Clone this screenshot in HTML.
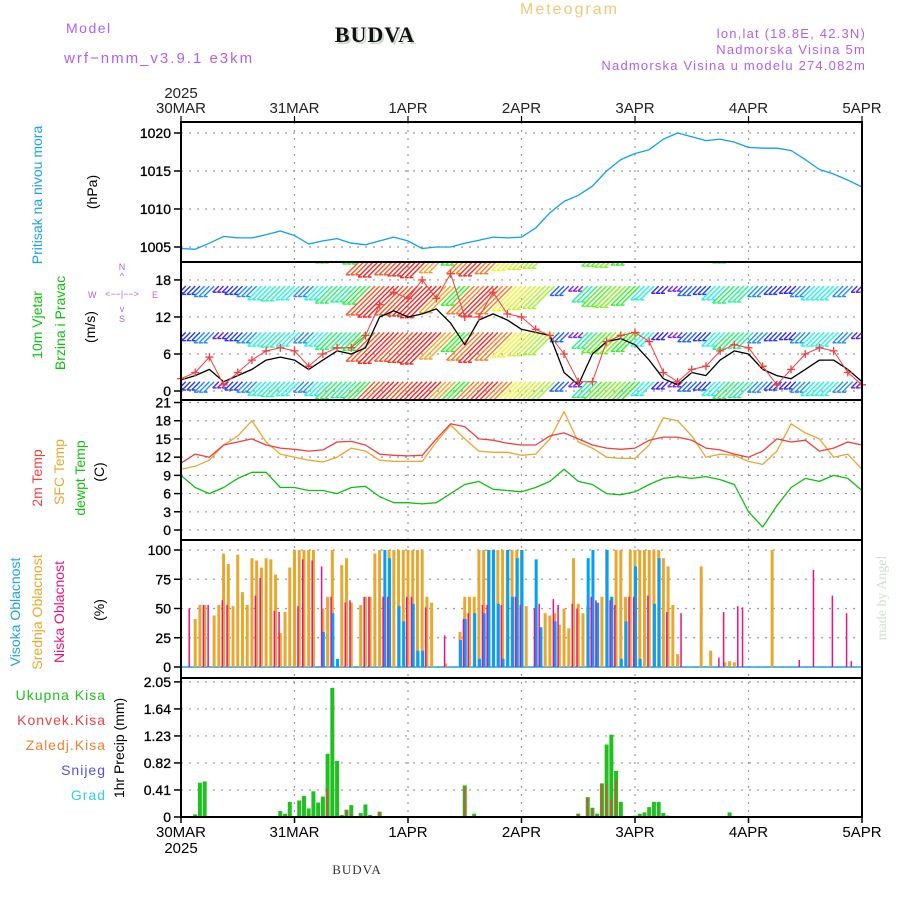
<!DOCTYPE html>
<html><head><meta charset="utf-8"><style>
html,body{margin:0;padding:0;background:#fff;}
svg text{font-family:"Liberation Sans",sans-serif;}
</style></head><body>
<svg id="chart" width="900" height="900" viewBox="0 0 900 900" xmlns="http://www.w3.org/2000/svg">
<rect x="0" y="0" width="900" height="900" fill="#fff"/>
<text x="66" y="33" font-size="14" fill="#b060f0" letter-spacing="1.5">Model</text>
<text x="64" y="63" font-size="15" fill="#b060f0" letter-spacing="2">wrf−nmm_v3.9.1 e3km</text>
<text x="377" y="44" font-size="22" font-weight="bold" fill="#c8d8c8" text-anchor="middle" style="font-family:'Liberation Serif',serif" letter-spacing="1">BUDVA</text>
<text x="375" y="42" font-size="22" font-weight="bold" fill="#111" text-anchor="middle" style="font-family:'Liberation Serif',serif" letter-spacing="1">BUDVA</text>
<text x="520" y="14" font-size="16" fill="#f0c878" letter-spacing="2">Meteogram</text>
<text x="866" y="38" font-size="13" fill="#b060f0" text-anchor="end" letter-spacing="1.2">lon,lat (18.8E, 42.3N)</text>
<text x="866" y="54" font-size="13" fill="#b060f0" text-anchor="end" letter-spacing="1.2">Nadmorska Visina 5m</text>
<text x="866" y="70" font-size="13" fill="#b060f0" text-anchor="end" letter-spacing="1.2">Nadmorska Visina u modelu 274.082m</text>

<text transform="translate(42,195) rotate(-90)" font-size="14" fill="#20a0f0" text-anchor="middle">Pritisak na nivou mora</text>
<text transform="translate(97,192) rotate(-90)" font-size="14" fill="#000" text-anchor="middle">(hPa)</text>
<text transform="translate(42,325) rotate(-90)" font-size="14" fill="#10c010" text-anchor="middle">10m Vjetar</text>
<text transform="translate(65,323) rotate(-90)" font-size="14" fill="#10c010" text-anchor="middle">Brzina i Pravac</text>
<text transform="translate(95,327) rotate(-90)" font-size="14" fill="#000" text-anchor="middle">(m/s)</text>
<g font-size="9" fill="#b060f0">
<text x="122" y="270" text-anchor="middle">N</text>
<text x="122" y="279" text-anchor="middle">^</text>
<text x="88" y="298">W</text>
<text x="122" y="297" text-anchor="middle">&lt;−−|−−&gt;</text>
<text x="152" y="298">E</text>
<text x="122" y="312" text-anchor="middle">v</text>
<text x="122" y="322" text-anchor="middle">S</text>
</g>
<text transform="translate(42,478) rotate(-90)" font-size="14" fill="#f04040" text-anchor="middle">2m Temp</text>
<text transform="translate(64,472) rotate(-90)" font-size="14" fill="#e8a830" text-anchor="middle">SFC Temp</text>
<text transform="translate(85,478) rotate(-90)" font-size="14" fill="#10c010" text-anchor="middle">dewpt Temp</text>
<text transform="translate(104,472) rotate(-90)" font-size="14" fill="#000" text-anchor="middle">(C)</text>
<text transform="translate(20,612) rotate(-90)" font-size="14" fill="#20a0f0" text-anchor="middle">Visoka Oblacnost</text>
<text transform="translate(42,612) rotate(-90)" font-size="14" fill="#e8a830" text-anchor="middle">Srednja Oblacnost</text>
<text transform="translate(64,612) rotate(-90)" font-size="14" fill="#f0107f" text-anchor="middle">Niska Oblacnost</text>
<text transform="translate(104,610) rotate(-90)" font-size="14" fill="#000" text-anchor="middle">(%)</text>
<g font-size="14" text-anchor="end" letter-spacing="1">
<text x="106" y="700" fill="#20c020">Ukupna Kisa</text>
<text x="106" y="725" fill="#f04040">Konvek.Kisa</text>
<text x="106" y="750" fill="#f08030">Zaledj.Kisa</text>
<text x="106" y="775" fill="#5050f0">Snijeg</text>
<text x="106" y="800" fill="#30d0e0">Grad</text>
</g>
<text transform="translate(124,748) rotate(-90)" font-size="14" fill="#000" text-anchor="middle">1hr Precip (mm)</text>
<text transform="translate(886,598) rotate(-90)" font-size="14" fill="#d0e0d0" text-anchor="middle" style="font-family:'Liberation Serif',serif">made by Angel</text>
<text x="357" y="874" font-size="13" fill="#333" text-anchor="middle" style="font-family:'Liberation Serif',serif" letter-spacing="1">BUDVA</text>
<g id="plot"></g>
</svg>
<script>
// ---- data ----
const dayLabels = ["30MAR","31MAR","1APR","2APR","3APR","4APR","5APR"];
const pressure = [1004.8,1004.7,1005.5,1006.4,1006.2,1006.2,1006.6,1007.1,1006.5,1005.4,1005.8,1006.1,1005.5,1005.3,1005.8,1006.3,1005.8,1004.8,1005.0,1005.0,1005.5,1005.9,1006.3,1006.2,1006.3,1007.5,1009.5,1011,1011.8,1013,1015,1016.5,1017.3,1017.8,1019.2,1020,1019.5,1019,1019.2,1018.8,1018.1,1018,1018,1017.7,1016.5,1015.2,1014.6,1013.8,1012.9];
const windSpeed = [1.8,2.5,3.5,1.5,2.5,3.5,5,5.5,5,3.5,5,6.5,6,7,12,13,12,12.5,13.3,11,7.5,11.5,12.5,11.5,10,9.5,9,3,1,6,8,8.5,7.5,5,2,1,3,2.5,5,6.5,6,3.5,2.5,2,3.5,5,5,3.5,1.5];
const windGust = [2,3,5.5,1,3,5,6.5,7,6.5,4,6,7,7,9,14,16,15,18,15,19,12,12,16,12.5,12,10,9,6,1.5,1.5,8,9,9.5,8,3,1.5,3.5,4,6.5,7.5,7,4,1,3.5,6,7,6.5,3,1];
const temp2m = [11,12.5,12,14,14.5,15,14,13.5,13.3,13,13.2,14.5,14.6,14,12.5,12.3,12.2,12.3,15,17.5,17,15,14.8,14.3,14,14,15.5,16,15,14,13.5,13.3,13.5,14.8,15.3,15.3,14.8,13.5,13.2,12.5,12,13,15,14.5,14.8,13,13.5,14.5,14];
const tempSfc = [10,10.5,11.5,14,15.5,18,14.5,12.5,12,11.5,11.2,12,13.5,13,11.5,11.3,11.3,11.3,14.5,17.3,15,13,12.8,12.8,12.3,12.5,15,19.5,14.5,13.5,12,11.8,11.8,14,18.5,18,15.5,12,12.5,12.3,11.3,10.8,13,17.5,16,15,12,12.5,10];
const dewpoint = [9,7,6,7,8.5,9.5,9.5,7,7,6.5,6.5,6,7,7.2,5.5,4.5,4.5,4.3,4.5,6,7.5,8,6.7,6.5,6.3,7,8,10,8,7.5,6,5.8,6.3,7.5,8.5,8.8,8.5,8.8,8.3,7.5,3,0.5,4,7,8.5,8,9,8.5,6.5];
// cloud cover: [hour, percent]
const midCloud = [[3,41],[4,53],[5,53],[7,44],[8,53],[9,97],[10,88],[11,52],[12,96],[13,64],[14,53],[15,93],[16,91],[17,85],[18,93],[19,92],[20,79],[21,29],[22,47],[23,85],[24,100],[25,100],[26,100],[27,100],[28,100],[30,50],[31,60],[32,100],[34,87],[35,93],[36,55],[38,53],[39,60],[40,60],[41,97],[42,100],[44,100],[45,100],[46,100],[47,100],[48,100],[49,100],[50,100],[51,100],[52,60],[53,55],[56,3],[59,30],[60,60],[61,60],[62,60],[63,100],[64,100],[65,100],[66,100],[67,100],[68,100],[69,100],[70,100],[71,100],[72,100],[73,52],[77,46],[78,44],[79,46],[80,36],[81,50],[82,33],[83,93],[84,54],[85,46],[86,52],[87,60],[89,60],[90,100],[91,60],[92,100],[93,100],[94,60],[95,100],[96,100],[97,100],[98,100],[99,100],[100,100],[101,100],[102,93],[103,86],[104,53],[105,11],[110,86],[112,14],[115,4],[116,5],[117,4],[125,100]];
const highCloud = [[30,30],[32,46],[33,7],[43,100],[44,93],[46,52],[47,39],[49,54],[50,14],[51,14],[59,23],[60,41],[62,46],[63,7],[64,46],[65,100],[66,100],[67,54],[68,7],[69,100],[70,60],[71,93],[72,100],[75,92],[76,34],[79,39],[86,93],[87,100],[88,55],[90,100],[91,60],[93,7],[94,39],[96,86],[97,7],[100,54],[101,93]];
const lowCloud = [[2,50],[5,53],[6,53],[9,57],[10,53],[16,61],[17,76],[20,48],[21,47],[25,52],[26,92],[28,91],[30,86],[32,60],[35,55],[36,57],[39,60],[40,60],[43,60],[44,60],[48,60],[49,60],[52,51],[56,27],[60,41],[61,46],[64,53],[65,53],[68,53],[71,60],[72,53],[75,50],[76,54],[79,58],[80,53],[83,54],[84,50],[87,60],[88,57],[91,57],[92,53],[95,60],[96,60],[99,61],[103,47],[106,46],[114,8],[115,47],[118,52],[119,51],[131,6],[134,83],[138,61],[141,46],[142,5]];
// precipitation: [hour, mm]
const precipTotal = [[3,0.04],[4,0.52],[5,0.54],[21,0.09],[22,0.05],[23,0.23],[25,0.25],[26,0.32],[27,0.13],[28,0.39],[29,0.22],[30,0.31],[31,0.96],[32,1.96],[33,0.85],[34,0.03],[35,0.11],[36,0.18],[38,0.06],[39,0.19],[40,0.03],[42,0.08],[60,0.48],[62,0.05],[84,0.05],[86,0.3],[87,0.14],[88,0.05],[89,0.51],[90,1.1],[91,1.25],[92,0.7],[93,0.23],[96,0.02],[97,0.05],[98,0.07],[99,0.15],[100,0.23],[101,0.23],[102,0.06],[103,0.02],[116,0.07]];
const precipConv = [[31,0.42],[35,0.11],[36,0.05],[42,0.08],[60,0.45],[84,0.05],[86,0.3],[87,0.14],[89,0.51],[90,0.49],[91,0.27],[92,0.57],[101,0.02]];
const pTicks = [1005,1010,1015,1020];
const wTicks = [0,6,12,18];
const tTicks = [0,3,6,9,12,15,18,21];
const cTicks = [0,25,50,75,100];
const rTicks = ["0","0.41","0.82","1.23","1.64","2.05"];

// ---- axes ----
const X0=181, X1=862, HOURS=144, STEP=3;
const xh = h => X0 + (X1-X0)*h/HOURS;
const yP = v => 247 - (v-1005)*7.6;
const yW = v => 391 - v*6.17;
const yT = v => 530 - v*6.07;
const yC = v => 667 - v*1.17;
const yR = v => 817 - v*65.9;
const panels = [[122,262],[262,400],[400,540],[540,678],[678,817]];

const NS="http://www.w3.org/2000/svg";
const plot=document.getElementById('plot');
function mk(tag, attrs, parent){const e=document.createElementNS(NS,tag);for(const k in attrs)e.setAttribute(k,attrs[k]);(parent||plot).appendChild(e);return e;}

const grid = mk('g',{});


function hgrid(vals, yf){vals.forEach(v=>{const y=yf(parseFloat(v));const l=mk('line',{x1:X0,x2:X1,y1:y,y2:y,stroke:'#999','stroke-width':1.2,'stroke-dasharray':'2,6'},grid);});}
hgrid(pTicks,yP);hgrid(wTicks,yW);hgrid(tTicks,yT);hgrid(cTicks,yC);hgrid(rTicks,yR);
dayLabels.forEach((d,i)=>{if(i==0||i==6)return;const x=xh(i*24);const l=mk('line',{x1:x,x2:x,y1:122,y2:817,stroke:'#999','stroke-width':1.2,'stroke-dasharray':'2,6'},grid);});

function yticks(vals,yf,name){const g=mk('g',{});
vals.forEach(v=>{const y=yf(parseFloat(v));const t=mk('text',{x:171,y:y+5,'font-size':14,'text-anchor':'end',fill:'#000',stroke:'#000','stroke-width':0.3},g);t.textContent=v;mk('line',{x1:174,x2:181,y1:y,y2:y,stroke:'#000','stroke-width':1.5},g);});}
yticks(pTicks,yP,'pressure-y-axis');yticks(wTicks,yW,'wind-y-axis');yticks(tTicks,yT,'temp-y-axis');yticks(cTicks,yC,'cloud-y-axis');yticks(rTicks,yR,'precip-y-axis');

const xa=mk('g',{});
dayLabels.forEach((d,i)=>{const x=xh(i*24);
 const t=mk('text',{x:x,y:113,'font-size':15,'text-anchor':'middle',fill:'#222'},xa);t.textContent=d;
 const b=mk('text',{x:x,y:837,'font-size':15,'text-anchor':'middle',fill:'#000'},xa);b.textContent=d;
 mk('line',{x1:x,x2:x,y1:116,y2:122,stroke:'#000','stroke-width':1.2},xa);mk('line',{x1:x,x2:x,y1:817,y2:823,stroke:'#000','stroke-width':1.5},xa);});
let yr=mk('text',{x:X0,y:98,'font-size':15,'text-anchor':'middle',fill:'#222'},xa);yr.textContent='2025';
yr=mk('text',{x:X0,y:853,'font-size':15,'text-anchor':'middle',fill:'#000'},xa);yr.textContent='2025';

const defs=mk('defs',{});const cp=mk('clipPath',{id:'windclip'},defs);mk('rect',{x:X0,y:262,width:X1-X0,height:138},cp);

function polyline(arr,yf,color,name,w){const pts=arr.map((v,i)=>xh(i*STEP).toFixed(1)+','+yf(v).toFixed(1)).join(' ');const p=mk('polyline',{points:pts,fill:'none',stroke:color,'stroke-width':w||1.3,'stroke-linejoin':'round'});return p;}

polyline(pressure,yP,'#10a0f0','pressure-line');

const wb=mk('g',{'clip-path':'url(#windclip)'});
const rows=[1.5,9.5,17,23.5];
windSpeed.forEach((s,i)=>{const hue=Math.max(0,290-s*23);const col='hsl('+hue+',90%,55%)';const L=4+s*3;
 for(let k=-1;k<=1;k++){const x=xh(i*STEP+k);
  rows.forEach(r=>{const y=yW(r);const l=mk('line',{x1:x,y1:y,x2:x-L*0.72,y2:y+L*0.72,stroke:col,'stroke-width':1.4},wb);
   mk('line',{x1:x-L*0.72,y1:y+L*0.72,x2:x-L*0.72+4,y2:y+L*0.72,stroke:col,'stroke-width':1.4},wb);});}});
polyline(windSpeed,yW,'#000','wind-speed-line',1.3);
polyline(windGust,yW,'#f04040','wind-gust-line',1);
windGust.forEach((g,i)=>{const x=xh(i*STEP),y=yW(g);const c=mk('path',{d:`M${x-4},${y}H${x+4}M${x},${y-4}V${y+4}`,stroke:'#f04040','stroke-width':1.3});});

polyline(tempSfc,yT,'#e8a830','sfc-temp-line');
polyline(temp2m,yT,'#f04040','temp-2m-line');
polyline(dewpoint,yT,'#10c010','dewpoint-line');

const cz=mk('line',{x1:X0,x2:X1,y1:yC(0),y2:yC(0),stroke:'#20a0f0','stroke-width':1.5});
function bars(list,yf,color,w,off,name){list.forEach(([h,v])=>{const x=xh(h)+off;const y=yf(v);const r=mk('rect',{x:x,y:y,width:w,height:Math.max(0,yf(0)-y),fill:color});});}
bars(midCloud,yC,'#e8a830',3,-1.5,'mid-cloud-bar');
bars(highCloud,yC,'#00a0ff',3,-1,'high-cloud-bar');
bars(lowCloud,yC,'#f0107f',1.5,-2,'low-cloud-bar');

bars(precipTotal,yR,'#20c020',4,-2,'precip-total-bar');
bars(precipConv,yR,'#f04040',1.5,-1,'precip-conv-bar');

const fr=mk('g',{});
panels.forEach(([a,b])=>{mk('rect',{x:X0,y:a,width:X1-X0,height:b-a,fill:'none',stroke:'#000','stroke-width':2},fr);});
</script>
</body></html>
